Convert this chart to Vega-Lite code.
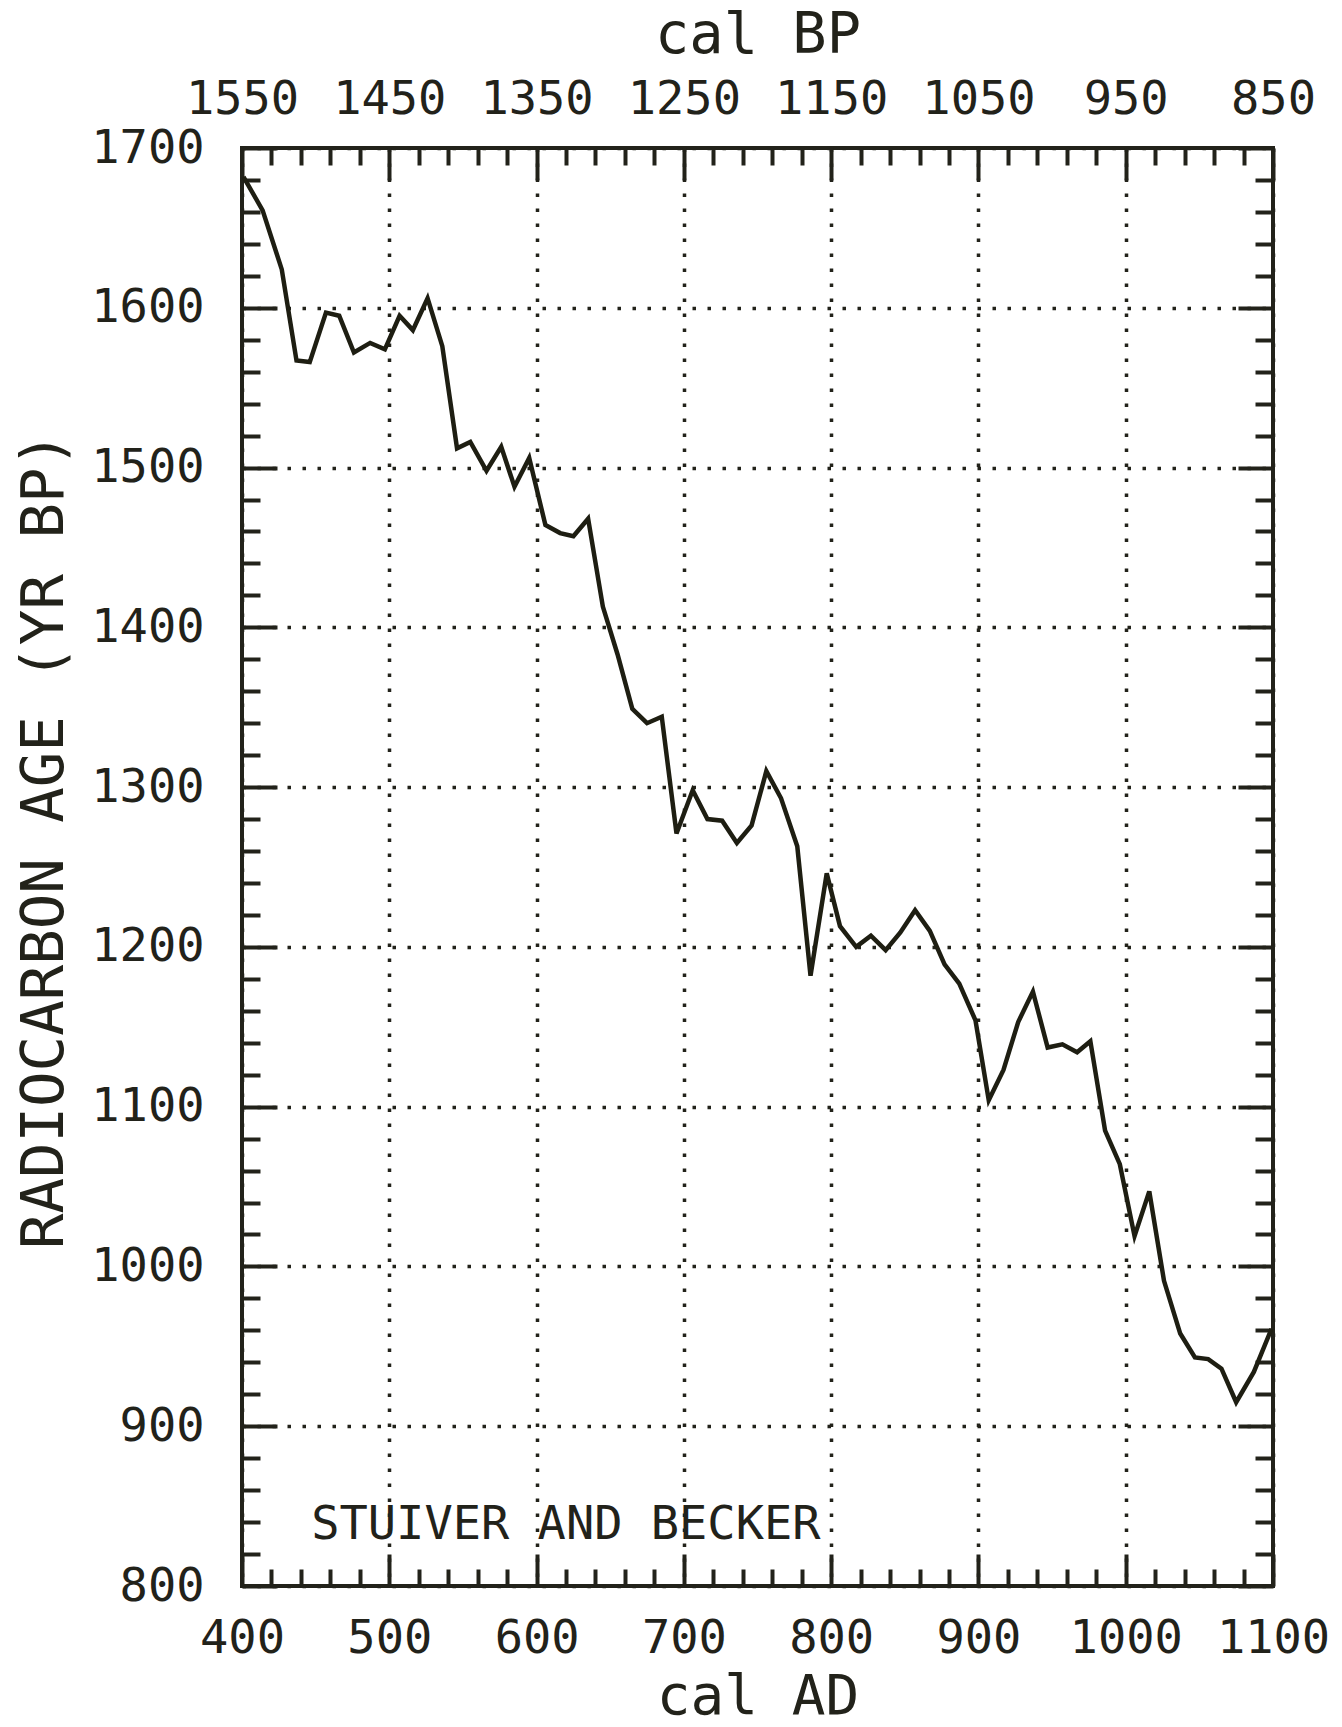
{
  "$schema": "https://vega.github.io/schema/vega-lite/v6.json",
  "width": 1031,
  "height": 1438,
  "autosize": {"type": "none"},
  "padding": {"left": 242, "top": 148, "right": 69, "bottom": 141},
  "background": "white",
  "config": {
    "font": "DejaVu Sans Mono",
    "view": {"stroke": "#22221a", "strokeWidth": 4},
    "axis": {
      "domain": false,
      "grid": false,
      "labelFont": "DejaVu Sans Mono",
      "titleFont": "DejaVu Sans Mono",
      "labelColor": "#22221a",
      "titleColor": "#22221a",
      "tickColor": "#22221a",
      "tickWidth": 4,
      "labelFontSize": 47,
      "titleFontSize": 57,
      "titleFontWeight": "normal",
      "labelFontWeight": "normal",
      "labelFlush": false,
      "labelOverlap": false,
      "gridColor": "#22221a",
      "gridWidth": 3.5,
      "gridDash": [3.5, 11.5]
    }
  },
  "datasets": {
    "curve": [
      {"calAD": 401, "age": 1682},
      {"calAD": 414, "age": 1661},
      {"calAD": 427, "age": 1624},
      {"calAD": 437, "age": 1567},
      {"calAD": 446, "age": 1566},
      {"calAD": 457, "age": 1597},
      {"calAD": 466, "age": 1595},
      {"calAD": 476, "age": 1572},
      {"calAD": 487, "age": 1578},
      {"calAD": 497, "age": 1574},
      {"calAD": 507, "age": 1595},
      {"calAD": 516, "age": 1586},
      {"calAD": 526, "age": 1606},
      {"calAD": 536, "age": 1576},
      {"calAD": 546, "age": 1512},
      {"calAD": 555, "age": 1516},
      {"calAD": 566, "age": 1498},
      {"calAD": 576, "age": 1513},
      {"calAD": 585, "age": 1488},
      {"calAD": 595, "age": 1506},
      {"calAD": 606, "age": 1464},
      {"calAD": 616, "age": 1459},
      {"calAD": 625, "age": 1457},
      {"calAD": 635, "age": 1468},
      {"calAD": 645, "age": 1413},
      {"calAD": 655, "age": 1383},
      {"calAD": 665, "age": 1349},
      {"calAD": 675, "age": 1340},
      {"calAD": 685, "age": 1344},
      {"calAD": 695, "age": 1271},
      {"calAD": 706, "age": 1298},
      {"calAD": 716, "age": 1280},
      {"calAD": 726, "age": 1279},
      {"calAD": 736, "age": 1265},
      {"calAD": 746, "age": 1276},
      {"calAD": 756, "age": 1310},
      {"calAD": 766, "age": 1293},
      {"calAD": 777, "age": 1263},
      {"calAD": 786, "age": 1182},
      {"calAD": 797, "age": 1246},
      {"calAD": 806, "age": 1213},
      {"calAD": 817, "age": 1200},
      {"calAD": 827, "age": 1207},
      {"calAD": 837, "age": 1198},
      {"calAD": 847, "age": 1209},
      {"calAD": 857, "age": 1223},
      {"calAD": 867, "age": 1210},
      {"calAD": 877, "age": 1189},
      {"calAD": 887, "age": 1177},
      {"calAD": 898, "age": 1154},
      {"calAD": 907, "age": 1104},
      {"calAD": 917, "age": 1123},
      {"calAD": 927, "age": 1153},
      {"calAD": 937, "age": 1172},
      {"calAD": 947, "age": 1137},
      {"calAD": 957, "age": 1139},
      {"calAD": 967, "age": 1134},
      {"calAD": 976, "age": 1141},
      {"calAD": 986, "age": 1085},
      {"calAD": 996, "age": 1064},
      {"calAD": 1006, "age": 1019},
      {"calAD": 1016, "age": 1047},
      {"calAD": 1026, "age": 991},
      {"calAD": 1037, "age": 958},
      {"calAD": 1047, "age": 943},
      {"calAD": 1056, "age": 942},
      {"calAD": 1065, "age": 936},
      {"calAD": 1075, "age": 915},
      {"calAD": 1087, "age": 934},
      {"calAD": 1099, "age": 961}
    ],
    "note": [
      {"calAD": 447, "age": 838, "label": "STUIVER AND BECKER"}
    ]
  },
  "layer": [
    {
      "data": {"name": "curve"},
      "mark": {"type": "line", "color": "#1e1e12", "strokeWidth": 4.5, "strokeJoin": "miter"},
      "encoding": {
        "x": {
          "field": "calAD",
          "type": "quantitative",
          "scale": {"domain": [400, 1100], "nice": false, "zero": false},
          "axis": {
            "orient": "bottom",
            "values": [400,420,440,460,480,500,520,540,560,580,600,620,640,660,680,700,720,740,760,780,800,820,840,860,880,900,920,940,960,980,1000,1020,1040,1060,1080,1100],
            "format": "d",
            "labelExpr": "datum.value % 100 === 0 ? datum.label : ''",
            "tickSize": {"condition": {"test": "datum.value % 100 === 0", "value": -32}, "value": -17},
            "labelPadding": 61,
            "labelBaseline": "top",
            "grid": true,
            "gridOpacity": {"condition": {"test": "datum.value % 100 === 0", "value": 1}, "value": 0},
            "title": "cal AD",
            "titleFontSize": 56,
            "titlePadding": -7
          }
        },
        "y": {
          "field": "age",
          "type": "quantitative",
          "scale": {"domain": [800, 1700], "nice": false, "zero": false},
          "axis": {
            "orient": "left",
            "values": [800,820,840,860,880,900,920,940,960,980,1000,1020,1040,1060,1080,1100,1120,1140,1160,1180,1200,1220,1240,1260,1280,1300,1320,1340,1360,1380,1400,1420,1440,1460,1480,1500,1520,1540,1560,1580,1600,1620,1640,1660,1680,1700],
            "format": "d",
            "labelExpr": "datum.value % 100 === 0 ? datum.label : ''",
            "tickSize": {"condition": {"test": "datum.value % 100 === 0", "value": -35}, "value": -18},
            "labelPadding": 73,
            "grid": true,
            "gridOpacity": {"condition": {"test": "datum.value % 100 === 0", "value": 1}, "value": 0},
            "title": "RADIOCARBON AGE (YR BP)",
            "titleFontSize": 59,
            "titlePadding": 16,
            "titleY": 692
          }
        }
      }
    },
    {
      "data": {"name": "note"},
      "mark": {"type": "text", "align": "left", "baseline": "middle", "fontSize": 47, "font": "DejaVu Sans Mono", "color": "#22221a"},
      "encoding": {
        "x": {
          "field": "calAD",
          "type": "quantitative",
          "axis": {
            "orient": "top",
            "values": [400,420,440,460,480,500,520,540,560,580,600,620,640,660,680,700,720,740,760,780,800,820,840,860,880,900,920,940,960,980,1000,1020,1040,1060,1080,1100],
            "labelExpr": "datum.value % 100 === 0 ? format(1950 - datum.value, 'd') : ''",
            "tickSize": {"condition": {"test": "datum.value % 100 === 0", "value": -32}, "value": -17},
            "labelPadding": 57,
            "title": "cal BP",
            "titlePadding": -4
          }
        },
        "y": {
          "field": "age",
          "type": "quantitative",
          "axis": {
            "orient": "right",
            "values": [800,820,840,860,880,900,920,940,960,980,1000,1020,1040,1060,1080,1100,1120,1140,1160,1180,1200,1220,1240,1260,1280,1300,1320,1340,1360,1380,1400,1420,1440,1460,1480,1500,1520,1540,1560,1580,1600,1620,1640,1660,1680,1700],
            "labels": false,
            "tickSize": {"condition": {"test": "datum.value % 100 === 0", "value": -35}, "value": -18},
            "title": null
          }
        },
        "text": {"field": "label"}
      }
    }
  ],
  "resolve": {"axis": {"x": "independent", "y": "independent"}}
}
